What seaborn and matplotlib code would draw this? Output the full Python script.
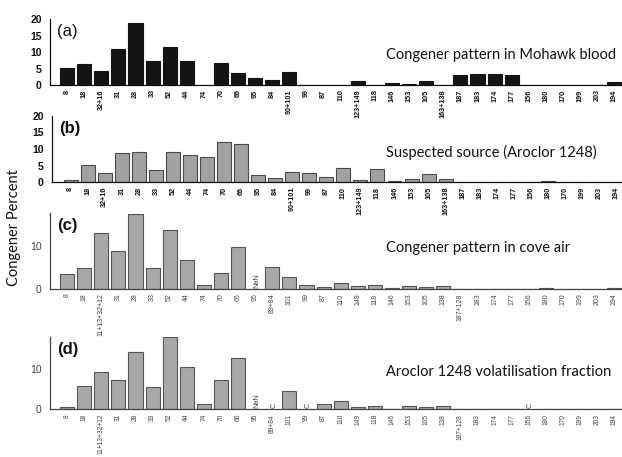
import matplotlib
matplotlib.use('Agg')
import matplotlib.pyplot as plt
import numpy as np
import seaborn as sns

sns.set_style('white')
plt.rcParams['font.family'] = ['Liberation Sans', 'DejaVu Sans']

nan = np.nan

# congener labels (top two panels share one set, bottom two another)
labels_ab = ['8', '18', '32+16', '31', '28', '33', '52', '44', '74', '70', '66', '95', '84',
             '90+101', '99', '87', '110', '123+149', '118', '146', '153', '105', '163+138',
             '187', '183', '174', '177', '156', '180', '170', '199', '203', '194']
labels_cd = ['8', '18', '11+13+32+12', '31', '28', '33', '52', '44', '74', '70', '66', '95',
             '89+84', '101', '99', '87', '110', '149', '118', '146', '153', '105', '138',
             '187+128', '183', '174', '177', '156', '180', '170', '199', '203', '194']

blood = [5.2, 6.5, 4.2, 10.8, 18.8, 7.4, 11.6, 7.3, 0, 6.8, 3.7, 2.0, 1.6, 4.0, 0, 0.1, 0.1,
         1.2, 0, 0.6, 0.3, 1.1, 0, 3.0, 3.4, 3.2, 2.9, 0, 0, 0, 0, 0, 0.8]
aroclor = [0.7, 5.3, 2.9, 8.8, 9.0, 3.8, 9.0, 8.3, 7.6, 12.0, 11.6, 2.3, 1.4, 3.1, 2.9, 1.7,
           4.3, 0.8, 4.0, 0.3, 0.9, 2.4, 1.1, 0.2, 0.2, 0.2, 0.2, 0.2, 0.4, 0.2, 0.1, 0.1, 0.1]
cove_air = [3.4, 4.8, 13.1, 8.8, 17.3, 4.8, 13.6, 6.7, 0.9, 3.6, 9.7, nan, 5.0, 2.8, 1.0, 0.5,
            1.4, 0.8, 1.0, 0.2, 0.8, 0.5, 0.7, 0.1, 0.1, 0.1, 0.1, 0.1, 0.2, 0.1, 0.1, 0.1, 0.2]
volatil = [0.7, 5.8, 9.3, 7.3, 14.2, 5.4, 17.7, 10.4, 1.4, 7.2, 12.5, nan, nan, 4.5, nan, 1.3,
           2.0, 0.7, 0.9, 0.2, 0.8, 0.5, 0.8, 0.1, 0.1, 0.1, 0.1, nan, 0.2, 0.1, 0.1, 0.1, 0.1]

notes_c = {'95': 'NaN'}
notes_d = {'95': 'NaN', '89+84': 'C', '99': 'C', '156': 'C'}

fig = plt.figure(figsize=(6.22, 4.57), dpi=100)

panels = [
    dict(rect=[50/622, 0.814, 572/622, 0.144], xlim=(-1.0, 32.45), ylim=(0, 20), yticks=[0, 5, 10, 15, 20],
         vals=blood, labels=labels_ab, title='Congener pattern in Mohawk blood', ty=55, tag='(a)',
         face='#141414', edge='#141414', ink='#111111', notes={}, bold=True, fs=5.2),
    dict(rect=[52/622, 0.601, 570/622, 0.1455], xlim=(-1.1, 32.35), ylim=(0, 20), yticks=[0, 5, 10, 15, 20],
         vals=aroclor, labels=labels_ab, title='Suspected source (Aroclor 1248)', ty=152, tag='(b)',
         face='#a2a2a2', edge='#4a4a4a', ink='#111111', notes={}, bold=True, fs=5.2),
    dict(rect=[50/622, 0.3676, 572/622, 0.166], xlim=(-1.0, 32.45), ylim=(0, 17.6), yticks=[0, 10],
         vals=cove_air, labels=labels_cd, title='Congener pattern in cove air', ty=248, tag='(c)',
         face='#a8a8a8', edge='#555555', ink='#444444', notes=notes_c, bold=False, fs=5.0),
    dict(rect=[50/622, 0.104, 572/622, 0.159], xlim=(-1.0, 32.45), ylim=(0, 17.8), yticks=[0, 10],
         vals=volatil, labels=labels_cd, title='Aroclor 1248 volatilisation fraction', ty=372, tag='(d)',
         face='#a8a8a8', edge='#555555', ink='#444444', notes=notes_d, bold=False, fs=4.8),
]

for p in panels:
    ax = fig.add_axes(p['rect'])
    sns.barplot(x=p['labels'], y=p['vals'], order=p['labels'], ax=ax, color=p['face'],
                edgecolor=p['edge'], linewidth=0.8, width=0.82, saturation=1)
    ax.set_xlim(*p['xlim'])
    ax.set_ylim(*p['ylim'])
    ax.set_yticks(p['yticks'])
    ax.set_xticks(range(len(p['labels'])))
    ax.set_xticklabels(p['labels'], rotation=90, fontsize=p['fs'], color=p['ink'],
                       fontweight='bold' if p['bold'] else 'normal')
    for t in ax.get_yticklabels():
        t.set_fontsize(7.5)
        t.set_color(p['ink'])
        if p['bold']:
            t.set_fontweight('bold')
    ax.tick_params(axis='y', length=4, width=0.8, pad=2, colors=p['ink'])
    ax.tick_params(axis='x', length=2, width=0.6, pad=1.2, colors=p['ink'])
    ax.set_xlabel('')
    ax.set_ylabel('')
    for side in ['top', 'right']:
        ax.spines[side].set_visible(False)
    for side in ['left', 'bottom']:
        ax.spines[side].set_color(p['ink'])
        ax.spines[side].set_linewidth(0.9)
    ax.patch.set_alpha(0)
    # NaN / C flags sit on the baseline where a bar is missing
    for k, lab in enumerate(p['labels']):
        if lab in p['notes']:
            ax.text(k + 0.1, 0.3, p['notes'][lab], rotation=90, ha='center', va='bottom',
                    fontsize=5.2, color=p['ink'])
    ax.text(0.012, 0.93, p['tag'], transform=ax.transAxes, ha='left', va='top', fontsize=12,
            fontweight='normal' if p['tag'] == '(a)' else 'bold', color='#111111')
    fig.text(386/622, 1 - p['ty']/457, p['title'], ha='left', va='center', fontsize=10.5,
             family=['Lato', 'DejaVu Sans'], color='#111111')

fig.text(14/622, 1 - 228/457, 'Congener Percent', rotation=90, ha='center', va='center',
         fontsize=10.5, family=['Lato', 'DejaVu Sans'], color='#111111')

fig.savefig('out.png', dpi=100)
